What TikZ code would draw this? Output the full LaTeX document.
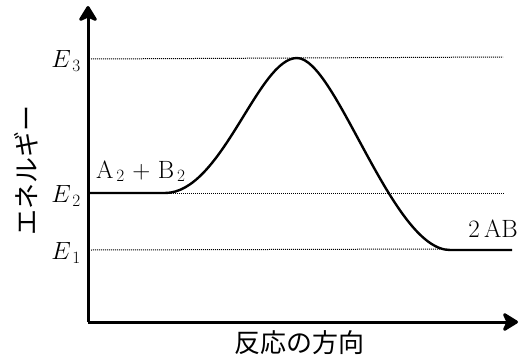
\documentclass[tikz,border=0pt]{standalone}
\usepackage{fontspec}
\newfontfamily\jp{Noto Sans CJK JP}
\usetikzlibrary{arrows.meta}
\begin{document}
\begin{tikzpicture}[x=1pt,y=-1pt,
  axis/.style={line width=3pt,-{Stealth[length=18pt,width=22pt,inset=5pt,round]}},
  level/.style={line width=1pt,dash pattern=on 1pt off 1pt},
  curve/.style={line width=2.4pt},
  lab/.style={font=\fontsize{25}{28}\selectfont,inner sep=0pt},
  jlab/.style={font=\fontsize{26}{30}\selectfont\jp,inner sep=0pt}]
\useasboundingbox (0,0) rectangle (525,356);
\coordinate (O) at (88,322);
\coordinate (ytop) at (88,6);
\coordinate (xend) at (518,322);
\coordinate (e3a) at (91,59);
\coordinate (e3b) at (503,57);
\coordinate (e2a) at (91,193);
\coordinate (e2b) at (505,193);
\coordinate (e1a) at (91,250);
\coordinate (e1b) at (445,249);
\coordinate (s) at (88,193);
\coordinate (f) at (165,193);
\coordinate (peak) at (297,58);
\coordinate (g) at (450,250);
\coordinate (t) at (512,250);
\draw[level] (e3a) -- (e3b);
\draw[level] (e2a) -- (e2b);
\draw[level] (e1a) -- (e1b);
\draw[curve] (s) -- (f) .. controls (222,193) and (258,58) .. (peak)
  .. controls (336,58) and (392,250) .. (g) -- (t);
\draw[axis] (O) -- (ytop);
\draw[axis] (O) -- (xend);
\node[lab,anchor=east] (E3) at (81,61) {$E_{\,3}$};
\node[lab,anchor=east] (E2) at (81,196) {$E_{\,2}$};
\node[lab,anchor=east] (E1) at (81,253) {$E_{\,1}$};
\node[lab,anchor=base west] (AB) at (96,178) {A$_{\,2}$ + B$_{\,2}$};
\node[lab,anchor=base east] (P) at (518,237) {2\,AB};
\node[jlab] (xl) at (299,343) {反応の方向};
\node[jlab,rotate=90] (yl) at (26,170) {エネルギー};
\end{tikzpicture}
\end{document}
